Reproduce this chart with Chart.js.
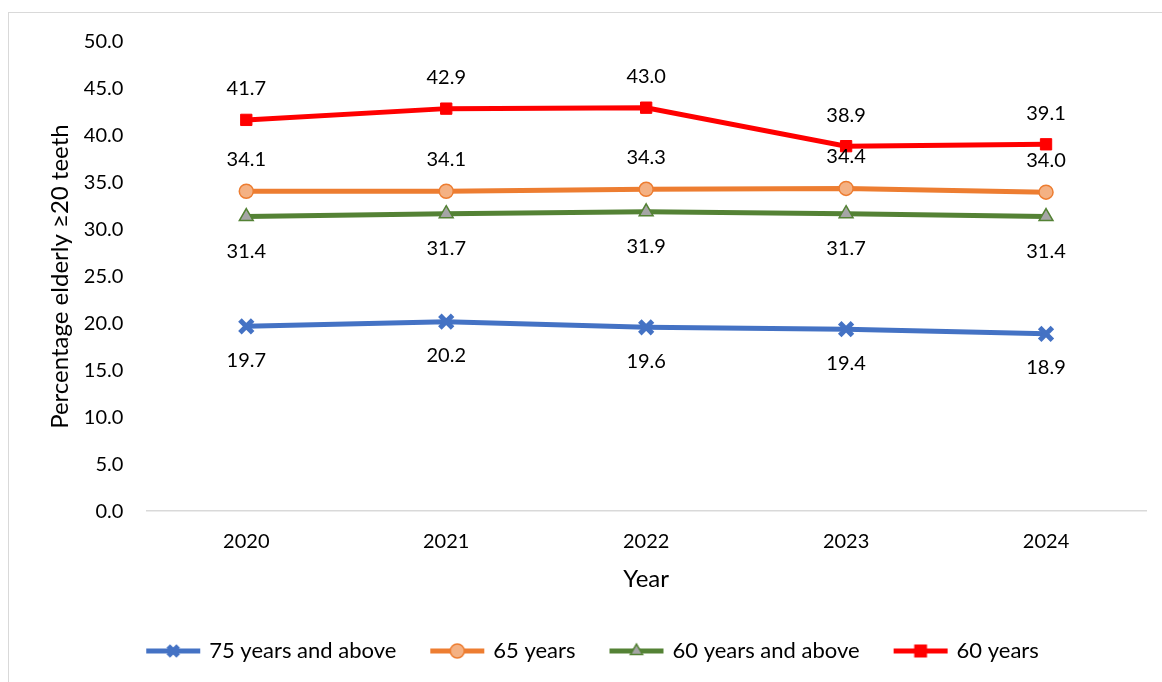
<!DOCTYPE html>
<html>
<head>
<meta charset="utf-8">
<script src="https://cdn.jsdelivr.net/npm/chart.js@4"></script>
<style>
  html, body { margin: 0; padding: 0; background: #fff; }
  #frame {
    position: absolute; left: 8px; top: 12px;
    width: 1170px; height: 690px;
    border: 1px solid #d9d9d9; box-sizing: border-box;
  }
  #wrap { position: absolute; left: 0; top: 0; width: 1162px; height: 682px; }
</style>
</head>
<body>
<div id="frame"></div>
<div id="wrap"><canvas id="chart"></canvas></div>
<script>
// Chart data
const years = ['2020', '2021', '2022', '2023', '2024'];
const above75 = [19.7, 20.2, 19.6, 19.4, 18.9];
const age65 = [34.1, 34.1, 34.3, 34.4, 34.0];
const above60 = [31.4, 31.7, 31.9, 31.7, 31.4];
const age60 = [41.7, 42.9, 43.0, 38.9, 39.1];

const FONT = 'Lato, "Open Sans", sans-serif';
Chart.defaults.font.family = FONT;
Chart.defaults.color = '#000';

// Small line+marker image for each legend entry
function legendIcon(color, style, fill, border) {
    const c = document.createElement('canvas');
    c.width = 56; c.height = 20;
    const g = c.getContext('2d');
    g.strokeStyle = color; g.lineWidth = 5;
    g.beginPath(); g.moveTo(1, 10); g.lineTo(55, 10); g.stroke();
    g.fillStyle = fill; g.strokeStyle = border;
    g.lineWidth = style === 'crossRot' ? 5 : 1.5;
    Chart.helpers.drawPoint(g, {
        pointStyle: style, radius: style === 'rect' ? 8 : 7,
        borderWidth: g.lineWidth, rotation: 0
    }, 28, 10);
    return c;
}

// Data label plugin: draws values above / below points
const valueLabels = {
    id: 'valueLabels',
    afterDatasetsDraw(chart) {
        const ctx = chart.ctx;
        ctx.save();
        ctx.font = '20px ' + FONT;
        ctx.fillStyle = '#000';
        ctx.textAlign = 'center';
        ctx.textBaseline = 'middle';
        chart.data.datasets.forEach((ds, i) => {
            const meta = chart.getDatasetMeta(i);
            meta.data.forEach((pt, j) => {
                ctx.fillText(ds.data[j].toFixed(1), pt.x, pt.y + ds.labelOffset);
            });
        });
        ctx.restore();
    }
};

const series = [
    { label: '75 years and above', data: above75, color: '#4472C4', style: 'crossRot', fill: '#4472C4', border: '#4472C4', r: 9, bw: 5, labelOffset: 34 },
    { label: '65 years', data: age65, color: '#ED7D31', style: 'circle', fill: '#F4B183', border: '#ED7D31', r: 7, bw: 1.5, labelOffset: -32 },
    { label: '60 years and above', data: above60, color: '#548235', style: 'triangle', fill: '#A5A5A5', border: '#548235', r: 8, bw: 1.5, labelOffset: 35 },
    { label: '60 years', data: age60, color: '#FF0000', style: 'rect', fill: '#FF0000', border: '#FF0000', r: 8, bw: 1, labelOffset: -31 }
];

const icons = series.map(s => legendIcon(s.color, s.style, s.fill, s.border));

new Chart(document.getElementById('chart'), {
    type: 'line',
    data: {
        labels: years,
        datasets: series.map(s => ({
            label: s.label,
            data: s.data,
            borderColor: s.color,
            borderWidth: 5,
            pointStyle: s.style,
            pointRadius: s.r,
            pointBackgroundColor: s.fill,
            pointBorderColor: s.border,
            pointBorderWidth: s.bw,
            tension: 0,
            labelOffset: s.labelOffset
        }))
    },
    options: {
        responsive: true,
        maintainAspectRatio: false,
        animation: false,
        layout: { padding: { left: 41, right: 16, top: 42, bottom: 10 } },
        scales: {
            x: {
                offset: true,
                grid: { display: false, drawTicks: false },
                border: { display: true, color: '#d9d9d9', width: 1.5 },
                ticks: { font: { size: 20 }, padding: 18 },
                title: { display: true, text: 'Year', font: { size: 24 }, padding: { top: -6, bottom: 10 } }
            },
            y: {
                min: 0, max: 50,
                grid: { display: false, drawTicks: false },
                border: { display: false },
                ticks: { stepSize: 5, font: { size: 20 }, padding: 23, callback: v => v.toFixed(1) },
                title: { display: true, text: 'Percentage elderly ≥20 teeth', font: { size: 24 }, padding: { top: 5, bottom: -14 } }
            }
        },
        plugins: {
            legend: {
                position: 'bottom',
                labels: {
                    usePointStyle: true,
                    pointStyleWidth: 50,
                    padding: 36,
                    font: { size: 22 },
                    generateLabels: chart => chart.data.datasets.map((ds, i) => ({
                        text: ds.label,
                        pointStyle: icons[i],
                        datasetIndex: i,
                        fillStyle: ds.borderColor,
                        strokeStyle: ds.borderColor,
                        lineWidth: 0,
                        hidden: false
                    }))
                }
            },
            tooltip: { enabled: false }
        }
    },
    plugins: [valueLabels]
});
</script>
</body>
</html>
